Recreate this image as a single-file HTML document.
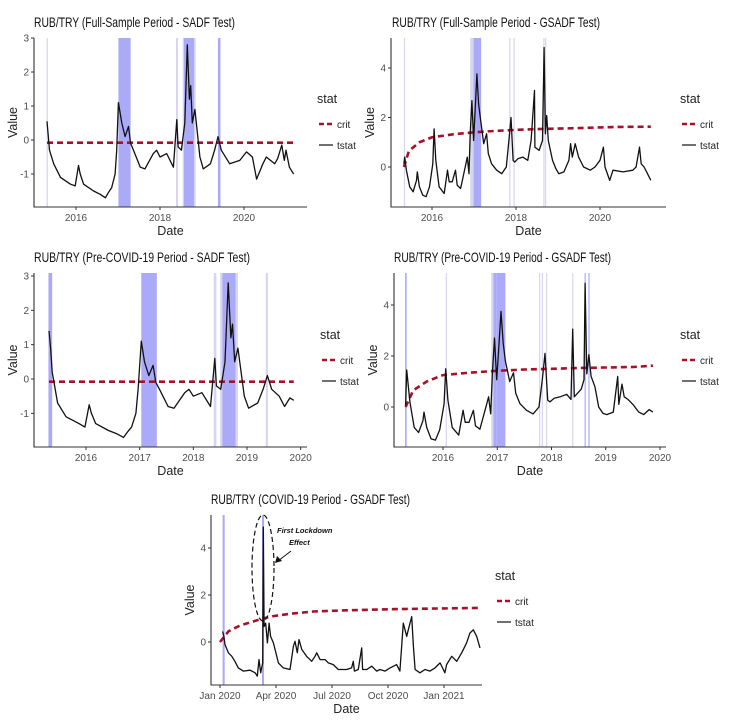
<!DOCTYPE html>
<html><head><meta charset="utf-8"><style>
html,body{margin:0;padding:0;background:#fff;}
svg{display:block;font-family:"Liberation Sans",Arial,sans-serif;}
</style></head><body>
<svg id="chart" width="746" height="728" viewBox="0 0 746 728" xmlns="http://www.w3.org/2000/svg"></svg>
<script>
// ---------- Panel 1: Full-sample SADF ----------
const p1Dates=[2015.31,2015.37,2015.47,2015.63,2015.87,2015.98,2016.06,2016.1,2016.18,2016.42,2016.58,2016.7,2016.77,2016.85,2016.93,2016.97,2017.01,2017.09,2017.17,2017.25,2017.3,2017.37,2017.53,2017.64,2017.84,2017.92,2018.0,2018.16,2018.32,2018.4,2018.43,2018.51,2018.59,2018.65,2018.7,2018.73,2018.77,2018.83,2018.95,2019.03,2019.2,2019.3,2019.38,2019.46,2019.66,2019.9,2020.06,2020.2,2020.3,2020.45,2020.53,2020.73,2020.8,2020.9,2020.96,2021.0,2021.08,2021.18];
const p1Tstat=[0.55,-0.3,-0.7,-1.1,-1.3,-1.35,-0.75,-1.0,-1.3,-1.5,-1.6,-1.7,-1.55,-1.4,-1.0,-0.3,1.1,0.5,0.1,0.4,-0.1,-0.3,-0.8,-0.85,-0.4,-0.3,-0.5,-0.4,-0.8,0.6,-0.2,-0.3,0.5,2.8,1.2,1.6,0.5,0.9,-0.5,-0.85,-0.7,-0.3,0.1,-0.3,-0.7,-0.6,-0.35,-0.5,-1.15,-0.7,-0.5,-0.7,-0.55,-0.15,-0.6,-0.3,-0.8,-1.0];
const p1CritDates=[2015.31,2021.18];
const p1Crit=[-0.08,-0.08];
const p1ShadeStart=[2015.30,2017.01,2018.38,2018.54,2018.57,2018.81,2019.38];
const p1ShadeEnd=[2015.33,2017.30,2018.43,2018.57,2018.81,2018.85,2019.44];
const p1ShadeDark=[0,1,0,0,1,0,1];
const p1YTicks=[-1,0,1,2,3];
const p1XTicks=[2016,2018,2020];

// ---------- Panel 2: Full-sample GSADF ----------
const p2Dates=[2015.33,2015.35,2015.39,2015.47,2015.55,2015.63,2015.65,2015.7,2015.78,2015.86,2015.94,2016.02,2016.05,2016.09,2016.17,2016.29,2016.37,2016.41,2016.48,2016.56,2016.6,2016.68,2016.8,2016.84,2016.88,2016.91,2016.95,2016.99,2017.03,2017.07,2017.11,2017.15,2017.23,2017.3,2017.34,2017.42,2017.54,2017.66,2017.77,2017.83,2017.88,2017.93,2017.97,2018.05,2018.16,2018.28,2018.36,2018.44,2018.45,2018.55,2018.63,2018.67,2018.7,2018.73,2018.77,2018.87,2018.95,2019.02,2019.14,2019.26,2019.3,2019.34,2019.41,2019.49,2019.61,2019.77,2019.88,2020.0,2020.08,2020.12,2020.23,2020.31,2020.55,2020.78,2020.86,2020.94,2020.98,2021.05,2021.13,2021.21];
const p2Tstat=[0.13,0.4,-0.13,-0.8,-1.0,-0.54,-0.2,-0.8,-1.14,-1.2,-0.8,0.13,1.54,0.27,-0.8,-1.07,-0.13,-0.6,-0.6,-0.13,-0.74,-0.87,0.07,0.4,-0.27,1.34,2.68,1.07,2.42,3.76,2.55,2.0,0.94,1.34,0.54,0.13,-0.13,-0.27,0,1.07,2.0,0.27,0.2,0.34,0.4,0.27,1.07,3.09,0.8,0.67,1.07,4.83,1.34,2.08,1.07,0.27,-0.07,-0.27,-0.2,0.27,0.94,0.4,0.94,0.4,0,-0.13,0,0.27,0.8,0,-0.54,-0.13,-0.2,-0.13,0,0.8,0.13,0,-0.27,-0.54];
const p2CritDates=[2015.33,2015.45,2015.7,2016.0,2016.5,2017.0,2017.5,2018.0,2018.5,2019.0,2019.5,2020.0,2020.5,2021.21];
const p2Crit=[0.0,0.65,1.0,1.2,1.32,1.4,1.46,1.5,1.53,1.55,1.57,1.6,1.62,1.63];
const p2ShadeStart=[2015.33,2016.91,2016.99,2017.84,2017.94,2018.65,2018.69];
const p2ShadeEnd=[2015.35,2016.99,2017.17,2017.86,2017.96,2018.67,2018.71];
const p2ShadeDark=[0,0,1,0,0,0,0];
const p2YTicks=[0,2,4];
const p2XTicks=[2016,2018,2020];

// ---------- Panel 3: Pre-COVID SADF ----------
const p3Dates=[2015.31,2015.34,2015.37,2015.47,2015.63,2015.87,2015.98,2016.06,2016.1,2016.18,2016.42,2016.58,2016.7,2016.77,2016.85,2016.93,2016.97,2017.03,2017.09,2017.17,2017.25,2017.3,2017.37,2017.53,2017.64,2017.84,2017.92,2018.0,2018.16,2018.32,2018.4,2018.43,2018.51,2018.59,2018.65,2018.7,2018.73,2018.77,2018.83,2018.95,2019.03,2019.2,2019.3,2019.38,2019.46,2019.6,2019.7,2019.8,2019.87];
const p3Tstat=[1.4,0.9,0.2,-0.7,-1.1,-1.3,-1.4,-0.75,-1.0,-1.3,-1.5,-1.6,-1.7,-1.55,-1.4,-1.0,-0.3,1.1,0.5,0.1,0.4,-0.1,-0.3,-0.8,-0.85,-0.4,-0.3,-0.5,-0.4,-0.8,0.6,-0.2,-0.3,0.5,2.8,1.2,1.6,0.5,0.9,-0.5,-0.85,-0.7,-0.3,0.1,-0.3,-0.5,-0.8,-0.55,-0.62];
const p3CritDates=[2015.31,2019.87];
const p3Crit=[-0.08,-0.08];
const p3ShadeStart=[2015.30,2017.03,2018.38,2018.50,2018.54,2018.79,2019.35];
const p3ShadeEnd=[2015.37,2017.32,2018.43,2018.54,2018.79,2018.83,2019.39];
const p3ShadeDark=[1,1,0,0,1,0,0];
const p3YTicks=[-1,0,1,2,3];
const p3XTicks=[2016,2017,2018,2019,2020];

// ---------- Panel 4: Pre-COVID GSADF ----------
const p4Dates=[2015.31,2015.33,2015.39,2015.47,2015.55,2015.63,2015.65,2015.7,2015.78,2015.86,2015.94,2016.02,2016.05,2016.09,2016.17,2016.29,2016.37,2016.41,2016.48,2016.56,2016.6,2016.68,2016.8,2016.84,2016.88,2016.91,2016.95,2016.99,2017.03,2017.07,2017.11,2017.15,2017.23,2017.3,2017.34,2017.42,2017.54,2017.66,2017.77,2017.83,2017.88,2017.93,2017.97,2018.05,2018.16,2018.28,2018.36,2018.39,2018.42,2018.55,2018.6,2018.62,2018.65,2018.69,2018.73,2018.8,2018.87,2018.95,2019.02,2019.14,2019.22,2019.24,2019.3,2019.34,2019.41,2019.5,2019.61,2019.7,2019.8,2019.87];
const p4Tstat=[0.05,1.45,0.2,-0.8,-1.0,-0.54,-0.2,-0.8,-1.25,-1.3,-0.9,0.13,1.5,0.27,-0.8,-1.1,-0.13,-0.6,-0.6,-0.13,-0.74,-0.87,0.07,0.4,-0.27,1.34,2.7,1.07,2.4,3.75,2.5,1.8,1.0,1.34,0.54,0.13,-0.13,-0.27,0,1.07,2.1,0.27,0.2,0.34,0.4,0.5,0.3,3.05,0.4,0.7,1.07,4.85,1.3,2.05,1.2,0.8,0.0,-0.25,-0.3,-0.2,1.2,0.1,0.9,0.4,0.3,0.1,-0.2,-0.3,-0.1,-0.2];
const p4CritDates=[2015.31,2015.45,2015.7,2016.0,2016.5,2017.0,2017.5,2018.0,2018.5,2019.0,2019.5,2019.87];
const p4Crit=[0.0,0.65,1.0,1.25,1.35,1.42,1.47,1.5,1.53,1.55,1.57,1.62];
const p4ShadeStart=[2015.30,2016.05,2016.89,2016.93,2016.99,2017.77,2017.82,2017.90,2018.38,2018.61,2018.68];
const p4ShadeEnd=[2015.33,2016.07,2016.93,2016.99,2017.15,2017.79,2017.84,2017.92,2018.40,2018.63,2018.70];
const p4ShadeDark=[1,0,0,1,1,0,0,0,0,1,1];
const p4YTicks=[0,2,4];
const p4XTicks=[2016,2017,2018,2019,2020];

// ---------- Panel 5: COVID-19 GSADF (x in months since Jan 2020) ----------
const p5Months=[0.14,0.21,0.27,0.45,0.63,0.8,0.98,1.25,1.61,1.88,2.0,2.09,2.18,2.29,2.32,2.36,2.45,2.54,2.63,2.71,2.86,3.13,3.39,3.75,3.93,4.02,4.14,4.23,4.38,4.64,4.91,5.09,5.18,5.36,5.63,5.8,6.07,6.34,6.79,7.05,7.14,7.2,7.41,7.59,7.64,7.86,8.13,8.39,8.57,8.84,9.11,9.46,9.64,9.82,10.0,10.09,10.27,10.36,10.45,10.71,10.98,11.25,11.52,11.79,12.05,12.14,12.41,12.68,12.95,13.21,13.39,13.57,13.75,13.93];
const p5Tstat=[0.45,0.24,-0.11,-0.46,-0.61,-0.82,-1.1,-1.24,-1.2,-1.31,-1.45,-0.75,-1.31,-0.89,4.89,0.66,0.8,-0.04,0.8,0.24,-0.04,-0.89,-1.1,-1.17,-0.18,0.03,-0.46,0.1,-0.32,-0.61,-0.82,-0.61,-0.46,-0.75,-0.75,-0.89,-0.96,-1.17,-1.17,-1.1,-0.82,-1.24,-1.17,-0.25,-1.17,-1.17,-1.03,-1.24,-1.17,-1.24,-1.1,-0.96,-1.24,0.8,0.24,0.52,1.08,-0.18,-1.17,-1.31,-1.17,-1.24,-1.1,-0.89,-1.31,-0.96,-0.61,-0.82,-0.46,-0.04,0.38,0.52,0.24,-0.25];
const p5CritMonths=[0,0.45,1.07,1.7,2.29,2.86,3.75,5.0,6.79,9.46,13.93];
const p5Crit=[0,0.45,0.7,0.85,1.0,1.1,1.2,1.3,1.35,1.4,1.45];
const p5ShadeStart=[0.14,2.25];
const p5ShadeEnd=[0.25,2.36];
const p5ShadeDark=[1,1];
const p5YTicks=[0,2,4];
const p5XTickMonths=[0,3,6,9,12];
const p5XTickLabels=["Jan 2020","Apr 2020","Jul 2020","Oct 2020","Jan 2021"];

const NS="http://www.w3.org/2000/svg";
const svg=document.getElementById('chart');
function mk(tag,attrs,parent){const e=document.createElementNS(NS,tag);for(const k in attrs)e.setAttribute(k,attrs[k]);(parent||svg).appendChild(e);return e;}
function lin(d0,r0,d1,r1){return v=>r0+(v-d0)*(r1-r0)/(d1-d0);}

function panel(o){
  const g=mk('g',{});
  
  
  const X=o.x,Y=o.y;
  for(let i=0;i<o.ss.length;i++){
    const x0=X(o.ss[i]),x1=X(o.se[i]);
    const r=mk('rect',{x:x0,y:o.top,width:Math.max(1.2,x1-x0),height:o.bottom-o.top,fill:o.sd[i]?'#aaaaf8':'#d6d6ee'},g);
    
    
  }
  let d='';for(let i=0;i<o.cx.length;i++)d+=(i?'L':'M')+X(o.cx[i]).toFixed(1)+' '+Y(o.cy[i]).toFixed(1);
  const cl=mk('path',{d:d,fill:'none',stroke:'#a8102a','stroke-width':2.6,'stroke-dasharray':'6 4'},g);
  
  
  d='';for(let i=0;i<o.tx.length;i++)d+=(i?'L':'M')+X(o.tx[i]).toFixed(1)+' '+Y(o.ty[i]).toFixed(1);
  const tl=mk('path',{d:d,fill:'none',stroke:'#111','stroke-width':1.3,'stroke-linejoin':'round'},g);
  
  
  const ax=mk('path',{d:`M${o.left} ${o.top}V${o.bottom}H${o.right}`,fill:'none',stroke:'#333','stroke-width':1.1},g);
  
  
  o.yt.forEach(v=>{
    const y=Y(v);
    mk('line',{x1:o.left-3,x2:o.left,y1:y,y2:y,stroke:'#333'},g);
    const t=mk('text',{x:o.left-5,y:y+3.5,'text-anchor':'end','font-size':10,fill:'#4d4d4d'},g);
    t.textContent=v;
    
    
  });
  o.xt.forEach((v,i)=>{
    const x=X(v);
    mk('line',{x1:x,x2:x,y1:o.bottom,y2:o.bottom+3,stroke:'#333'},g);
    const t=mk('text',{x:x,y:o.bottom+14,'text-anchor':'middle','font-size':10,fill:'#4d4d4d'},g);
    t.textContent=o.xl?o.xl[i]:v;
    
    
  });
  const xt=mk('text',{x:(o.left+o.right)/2,y:o.bottom+28,'text-anchor':'middle','font-size':12.5,fill:'#222'},g);
  xt.textContent='Date';
  
  
  const yx=o.left-17,yy=(o.top+o.bottom)/2;
  const yt=mk('text',{x:yx,y:yy,'text-anchor':'middle','font-size':12.5,fill:'#222',transform:`rotate(-90 ${yx} ${yy})`},g);
  yt.textContent='Value';
  
  
  const ti=mk('text',{x:o.tx0,y:o.top-11,'font-size':14,fill:'#111',textLength:o.tw,lengthAdjust:'spacingAndGlyphs'},g);
  ti.textContent=o.title;
  
  
  const lg=mk('g',{},g);
  
  
  const st=mk('text',{x:o.lx,y:o.ly,'font-size':12.5,fill:'#222'},lg);st.textContent='stat';
  mk('line',{x1:o.lx+2,x2:o.lx+16,y1:o.ly+21,y2:o.ly+21,stroke:'#a8102a','stroke-width':2.6,'stroke-dasharray':'5 3'},lg);
  const c=mk('text',{x:o.lx+20,y:o.ly+25,'font-size':10,fill:'#222'},lg);c.textContent='crit';
  
  
  mk('line',{x1:o.lx+2,x2:o.lx+16,y1:o.ly+42,y2:o.ly+42,stroke:'#111','stroke-width':1.2},lg);
  const s=mk('text',{x:o.lx+20,y:o.ly+46,'font-size':10,fill:'#222'},lg);s.textContent='tstat';
  
  
}

panel({name:'panel-full-sadf',x:lin(2016,76,2018,160),y:lin(0,140,-1,174),left:34,right:307,top:38,bottom:207,
  tx:p1Dates,ty:p1Tstat,cx:p1CritDates,cy:p1Crit,ss:p1ShadeStart,se:p1ShadeEnd,sd:p1ShadeDark,yt:p1YTicks,xt:p1XTicks,
  title:'RUB/TRY (Full-Sample Period - SADF Test)',tx0:34,tw:201,lx:317,ly:103});
panel({name:'panel-full-gsadf',x:lin(2016,432,2018,516),y:lin(0,167,4,68),left:391,right:666,top:38,bottom:207,
  tx:p2Dates,ty:p2Tstat,cx:p2CritDates,cy:p2Crit,ss:p2ShadeStart,se:p2ShadeEnd,sd:p2ShadeDark,yt:p2YTicks,xt:p2XTicks,
  title:'RUB/TRY (Full-Sample Period - GSADF Test)',tx0:392,tw:208,lx:680,ly:103});
panel({name:'panel-precovid-sadf',x:lin(2016,86,2019,247),y:lin(0,379,3,276),left:34,right:307,top:273,bottom:447,
  tx:p3Dates,ty:p3Tstat,cx:p3CritDates,cy:p3Crit,ss:p3ShadeStart,se:p3ShadeEnd,sd:p3ShadeDark,yt:p3YTicks,xt:p3XTicks,
  title:'RUB/TRY (Pre-COVID-19 Period - SADF Test)',tx0:34,tw:216,lx:320,ly:339});
panel({name:'panel-precovid-gsadf',x:lin(2016,443,2020,660),y:lin(0,407,4,305),left:394,right:666,top:273,bottom:447,
  tx:p4Dates,ty:p4Tstat,cx:p4CritDates,cy:p4Crit,ss:p4ShadeStart,se:p4ShadeEnd,sd:p4ShadeDark,yt:p4YTicks,xt:p4XTicks,
  title:'RUB/TRY (Pre-COVID-19 Period - GSADF Test)',tx0:394,tw:217,lx:680,ly:339});
panel({name:'panel-covid-gsadf',x:lin(0,220,3,276),y:lin(0,642,4,548),left:211,right:482,top:515,bottom:685,
  tx:p5Months,ty:p5Tstat,cx:p5CritMonths,cy:p5Crit,ss:p5ShadeStart,se:p5ShadeEnd,sd:p5ShadeDark,yt:p5YTicks,xt:p5XTickMonths,xl:p5XTickLabels,
  title:'RUB/TRY (COVID-19 Period - GSADF Test)',tx0:211,tw:199,lx:495,ly:580});

const an=mk('g',{});


mk('ellipse',{cx:263,cy:568,rx:11,ry:53,fill:'none',stroke:'#111','stroke-width':1.2,'stroke-dasharray':'5 3'},an);
const a1=mk('text',{x:277,y:533,'font-size':7.5,'font-style':'italic','font-weight':'bold',fill:'#111'},an);a1.textContent='First Lockdown';
const a2=mk('text',{x:289,y:545,'font-size':7.5,'font-style':'italic','font-weight':'bold',fill:'#111'},an);a2.textContent='Effect';
mk('line',{x1:291,y1:551,x2:278,y2:561,stroke:'#111','stroke-width':1},an);
mk('path',{d:'M275 563 L277 556 L282 561 Z',fill:'#111'},an);
</script>
</body></html>
